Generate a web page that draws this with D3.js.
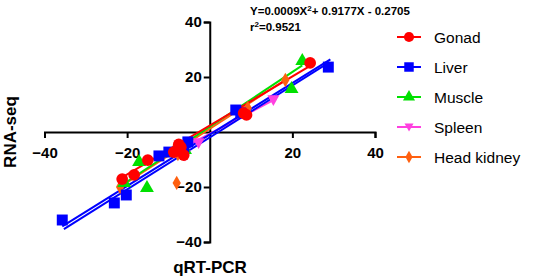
<!DOCTYPE html>
<html>
<head>
<meta charset="utf-8">
<script src="https://d3js.org/d3.v7.min.js"></script>
<style>
  body { margin: 0; background: #fff; }
  text { font-family: Arial, "Liberation Sans", sans-serif; }
</style>
</head>
<body>
<svg class="chart" width="536" height="280"></svg>
<script>
// series names and colours
const seriesNames = ["Gonad", "Liver", "Muscle", "Spleen", "Head kidney"];
const seriesColors = ["#ff0000", "#0000ff", "#00e000", "#ff40e0", "#ff6010"];
const seriesShapes = ["circle", "square", "triangle", "triangleDown", "diamond"];

// points, [qRT-PCR, RNA-seq]
const gonadPts = [[24.3, 25.1], [8.9, 6.2], [8.2, 6.9], [-7.0, -5.5], [-8.7, -7.3], [-6.3, -8.4], [-15.0, -10.2], [-21.2, -17.1], [-18.3, -15.6], [-7.5, -4.5]];
const liverPts = [[28.7, 23.6], [6.3, 8.0], [7.5, 6.9], [-5.3, -3.6], [-9.9, -7.3], [-12.3, -8.7], [-20.2, -22.9], [-23.1, -25.8], [-35.7, -32.0], [-6.3, -5.5]];
const musclePts = [[22.4, 25.8], [19.8, 15.6], [-17.1, -10.9], [-15.2, -20.4], [-20.7, -18.5], [-6.0, -6.5]];
const spleenPts = [[15.4, 11.6], [-2.7, -4.0], [-7.0, -7.0], [-6.0, -8.5]];
const kidneyPts = [[18.3, 18.9], [9.2, 8.7], [-8.0, -18.5], [-21.7, -20.0], [-8.2, -5.5], [-7.7, -8.0]];
const allPts = [gonadPts, liverPts, musclePts, spleenPts, kidneyPts];

// fit lines, end points
const gonadFit = [[-21.5, -16.8], [24.5, 24.2]];
const liverFit = [[-35.7, -34.3], [29.2, 26.4]];
const liverFit2 = [[-35.3, -35.3], [29.0, 25.4]];
const muscleFit = [[-21.0, -19.0], [22.4, 24.2]];
const spleenFit = [[-8.0, -7.0], [15.4, 11.6]];
const kidneyFit = [[-21.7, -20.0], [18.3, 19.0]];
const fits = [[gonadFit, 0], [liverFit, 1], [liverFit2, 1], [muscleFit, 2], [spleenFit, 3], [kidneyFit, 4]];
const fitOrder = [5, 4, 3, 0, 1, 2];

const xTicks = [-40, -20, 20, 40];
const yTicks = [40, 20, -20, -40];

const svg = d3.select("svg.chart");
const x = d3.scaleLinear().domain([-40, 40]).range([44.5, 375]);
const y = d3.scaleLinear().domain([-40, 40]).range([242, 22]);

// axes crossing at origin
const xAxis = svg.append("g")
  .attr("transform", "translate(0," + y(0) + ")")
  .call(d3.axisBottom(x).tickValues(xTicks).tickSize(6).tickPadding(9));
const yAxis = svg.append("g")
  .attr("transform", "translate(" + x(0) + ",0)")
  .call(d3.axisLeft(y).tickValues(yTicks).tickSize(6).tickPadding(2));
[xAxis, yAxis].forEach(a => {
  a.select(".domain").attr("stroke", "#000").attr("stroke-width", 2);
  a.selectAll(".tick line").attr("stroke", "#000").attr("stroke-width", 2);
  a.selectAll(".tick text").attr("fill", "#000")
    .style("font-size", "15px").style("font-weight", "bold");
});

// fit lines
const line = d3.line().x(d => x(d[0])).y(d => y(d[1]));
fitOrder.forEach(i => {
  const f = fits[i];
  svg.append("path")
    .attr("d", line(f[0]))
    .attr("fill", "none")
    .attr("stroke", seriesColors[f[1]])
    .attr("stroke-width", 2);
});

// marker symbols
function symbolPath(shape, s) {
  if (shape === "circle") return d3.symbol(d3.symbolCircle, s * 9)();
  if (shape === "square") return d3.symbol(d3.symbolSquare, s * 10)();
  if (shape === "triangle") return d3.symbol(d3.symbolTriangle, s * 7)();
  if (shape === "triangleDown") return "M" + (-s * 0.5) + "," + (-s * 0.4) + "L" + (s * 0.5) + "," + (-s * 0.4) + "L0," + (s * 0.5) + "Z";
  return d3.symbol(d3.symbolDiamond, s * 5)();
}

[4, 3, 2, 1, 0].forEach(i => {
  svg.append("g").selectAll("path")
    .data(allPts[i])
    .enter().append("path")
      .attr("transform", d => "translate(" + x(d[0]) + "," + y(d[1]) + ")")
      .attr("d", symbolPath(seriesShapes[i], 12))
      .attr("fill", seriesColors[i]);
});

// axis titles
svg.append("text")
  .attr("x", 210).attr("y", 273)
  .attr("text-anchor", "middle")
  .style("font-size", "17px").style("font-weight", "bold")
  .text("qRT-PCR");
svg.append("text")
  .attr("transform", "translate(16,132) rotate(-90)")
  .attr("text-anchor", "middle")
  .style("font-size", "17px").style("font-weight", "bold")
  .text("RNA-seq");

// equation
const eq = svg.append("text")
  .attr("x", 250).attr("y", 15)
  .style("font-size", "11.5px").style("font-weight", "bold");
eq.append("tspan").text("Y=0.0009X");
eq.append("tspan").attr("dy", -4).style("font-size", "8px").text("2");
eq.append("tspan").attr("dy", 4).text("+ 0.9177X - 0.2705");
const r2 = svg.append("text")
  .attr("x", 250).attr("y", 31)
  .style("font-size", "11.5px").style("font-weight", "bold");
r2.append("tspan").text("r");
r2.append("tspan").attr("dy", -4).style("font-size", "8px").text("2");
r2.append("tspan").attr("dy", 4).text("=0.9521");

// legend
const legend = svg.append("g");
seriesNames.forEach((name, i) => {
  const ly = 37 + i * 30;
  legend.append("line")
    .attr("x1", 397).attr("x2", 421).attr("y1", ly).attr("y2", ly)
    .attr("stroke", seriesColors[i]).attr("stroke-width", 2);
  legend.append("path")
    .attr("transform", "translate(409," + ly + ")")
    .attr("d", symbolPath(seriesShapes[i], 9))
    .attr("fill", seriesColors[i]);
  legend.append("text")
    .attr("x", 434).attr("y", ly + 5.5)
    .style("font-size", "15.5px")
    .text(name);
});
</script>
</body>
</html>
